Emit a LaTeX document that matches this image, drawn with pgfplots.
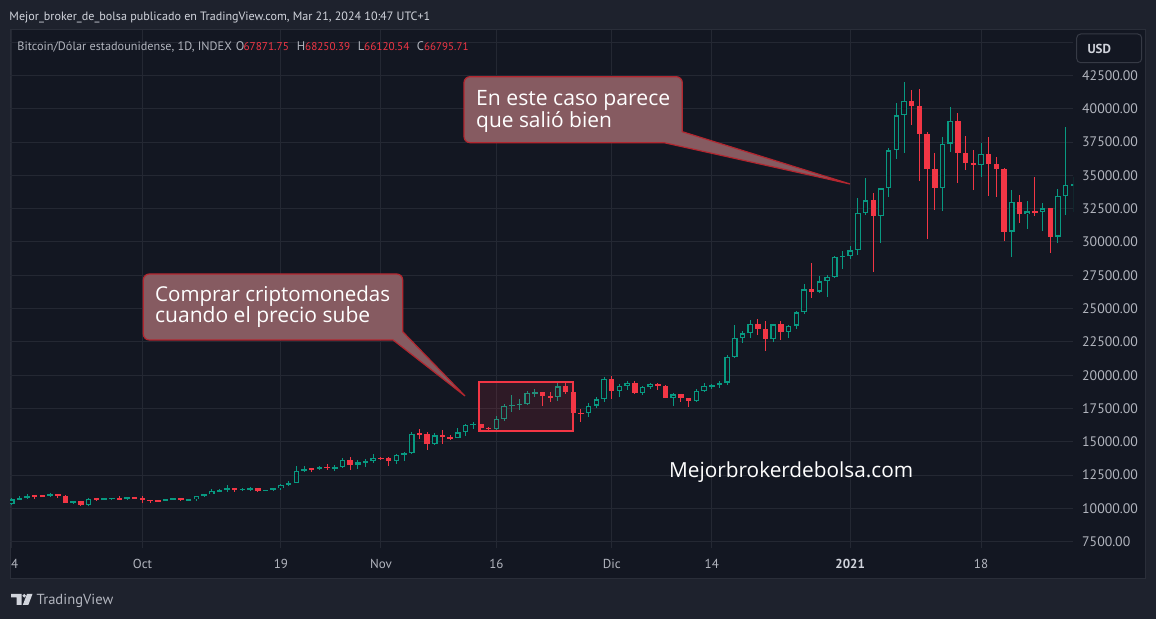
\documentclass[border=0pt]{standalone}
\usepackage{pgfplots}
\pgfplotsset{compat=1.18}
\usepackage{pgfplotstable}
\usepackage{fontspec}
\setmainfont{PT Sans}
\newfontfamily\callfont{Open Sans}
\definecolor{bgout}{HTML}{1E222D}
\definecolor{bgpane}{HTML}{131722}
\definecolor{paneborder}{HTML}{2A2E39}
\definecolor{gridc}{HTML}{242833}
\definecolor{tvgreen}{HTML}{089981}
\definecolor{tvred}{HTML}{F23645}
\definecolor{txtgray}{HTML}{B2B5BE}
\definecolor{txtlight}{HTML}{D1D4DC}
\definecolor{callfill}{HTML}{865B61}
\definecolor{callborder}{HTML}{B3262F}
\definecolor{btnborder}{HTML}{363A45}

% k = days since 14 Sep 2020; o h l c
\pgfplotstableread{
k o h l c
0 10330 10800 10280 10680
1 10680 10940 10630 10790
2 10790 11100 10690 10960
5 10930 11180 10890 11080
8 10420 10570 10360 10530
10 10240 10780 10200 10740
12 10690 10780 10650 10730
13 10730 10790 10620 10770
15 10690 10860 10650 10840
20 10550 10690 10530 10680
21 10680 10800 10610 10790
23 10600 10680 10540 10670
24 10670 10950 10540 10920
25 10920 11100 10820 11060
26 11060 11480 11050 11300
27 11300 11440 11280 11380
28 11380 11720 11200 11540
30 11420 11560 11300 11440
31 11440 11620 11280 11510
33 11330 11410 11290 11370
34 11370 11520 11340 11520
35 11520 11820 11410 11760
36 11760 12040 11690 11920
37 11920 13220 11900 12820
38 12820 13180 12700 12990
40 12940 13170 12910 13120
42 13040 13250 12800 13070
43 13070 13800 13050 13650
45 13280 13650 12980 13460
46 13460 13700 13130 13570
47 13570 14100 13430 13800
50 13550 14060 13300 14030
51 14030 14240 13530 14150
52 14150 15740 14100 15620
55 14800 15650 14750 15480
58 15300 16000 15280 15700
59 15700 16350 15450 16290
60 16290 16480 15980 16320
63 15960 16900 15870 16730
64 16730 17860 16570 17680
65 17680 18480 17220 17790
66 17790 18180 17350 17810
67 17810 18800 17760 18680
68 18680 18950 18400 18710
71 18370 19410 18030 19160
75 17140 17900 16880 17720
76 17720 18350 17570 18180
77 18180 19860 18000 19700
79 18790 19310 18360 19220
80 19220 19580 18900 19450
82 18650 19170 18530 19150
83 19150 19410 18950 19360
86 18320 18680 17650 18560
89 18040 18950 18000 18800
90 18800 19400 18740 19170
91 19170 19350 19000 19270
92 19270 19570 19050 19440
93 19440 21540 19300 21350
94 21350 23750 21300 22800
95 22800 23300 22450 23140
96 23140 24150 22800 23850
99 22720 23840 22500 23820
101 23240 23740 22800 23730
102 23730 24800 23450 24710
103 24710 26850 24600 26440
105 26270 27450 26200 27040
106 27040 27520 25900 27360
107 27360 28980 27330 28880
108 28880 29300 27950 28950
109 28950 29700 28720 29370
110 29370 33300 29050 32190
111 32190 34800 32020 33120
113 31950 34020 29950 34020
114 34020 37030 33400 36880
115 36880 40420 36220 39500
116 39500 42000 36650 40620
121 34020 37850 32350 37380
122 37380 40100 36750 39120
126 35800 37420 34850 36620
130 30780 33900 28900 32980
132 32080 33060 30980 32300
134 32250 32950 30850 32520
136 30400 33950 29950 33440
137 33440 38650 32020 34270
138 34270 34880 32230 34320
}\greentab

\pgfplotstableread{
k o h l c
3 10960 11040 10740 10940
4 10940 11040 10820 10930
6 11080 11080 10770 10920
7 10920 10990 10370 10420
9 10530 10540 10150 10240
11 10740 10760 10560 10690
14 10770 10950 10640 10690
16 10840 10850 10690 10780
17 10780 10920 10440 10620
18 10620 10660 10380 10570
19 10570 10600 10500 10550
22 10790 10800 10540 10600
29 11540 11560 11250 11430
32 11510 11540 11220 11330
39 12990 13030 12720 12940
41 13120 13340 12900 13040
44 13650 13850 12900 13280
48 13800 13890 13630 13760
49 13760 13830 13220 13550
53 15620 15960 15230 15560
54 15560 15770 14400 14800
56 15480 15850 14850 15330
57 15330 15480 15100 15300
61 16320 16330 15850 16070
62 16070 16140 15880 15960
69 18710 18730 17650 18420
70 18420 18770 18000 18370
72 19160 19460 18620 18720
73 18720 18800 17100 17150
74 17150 17460 16480 17140
78 19700 19920 18190 18790
81 19450 19540 18580 18650
84 19360 19420 18900 19170
85 19170 19290 18270 18320
87 18560 18580 17950 18260
88 18260 18280 17590 18040
97 23850 24250 23050 23480
98 23480 24050 21850 22720
100 23820 24100 22650 23240
104 26440 28400 25830 26270
112 33120 33650 27750 31950
117 40620 41400 38820 40220
118 40220 41480 34600 38120
119 38120 38220 30220 35450
120 35450 36680 32400 34020
123 39120 39650 34400 36700
124 36700 37950 35420 35950
125 35950 36870 33900 35800
127 36620 37850 33450 35880
128 35880 36370 33400 35480
129 35480 35580 30080 30780
131 32980 33500 31420 32080
133 32300 34850 31950 32250
135 32520 32580 29200 30400
}\redtab

\pgfplotsset{candle/.style={draw=none, mark=none, forget plot,
  error bars/.cd, y dir=both, y explicit, error mark=none}}

\begin{document}
\begin{tikzpicture}[x=1bp,y=1bp]
\fill[bgout] (0,0) rectangle (1156,619);
\useasboundingbox (0,0) rectangle (1156,619);
\fill[bgpane] (10,40) rectangle (1145,589);
\draw[paneborder, line width=1bp] (10,40) rectangle (1145,589);

\begin{axis}[
  at={(10bp,589bp)}, anchor=north west, scale only axis,
  width=1063bp, height=518bp,
  xmin=-0.221, xmax=137.96, ymin=7027, ymax=45916,
  axis line style={draw=none}, tick style={draw=none},
  grid=major, major grid style={draw=gridc, line width=1bp},
  xtick={17,35,48,63,78,91,109,126},
  xticklabels={Oct,19,Nov,16,Dic,14,{\textcolor{txtlight}{\bfseries 2021}},18},
  extra x ticks={0}, extra x tick labels={4},
  extra x tick style={grid=major, x tick label style={xshift=3bp}},
  ytick={7500,10000,...,42500},
  extra y ticks={45000}, extra y tick labels={},
  scaled y ticks=false,
  yticklabel pos=right,
  tick label style={font=\fontsize{13bp}{15bp}\selectfont, text=txtgray},
  y tick label style={anchor=west, inner sep=0pt, xshift=9bp, font=\fontsize{13.8bp}{15bp}\selectfont,
    /pgf/number format/fixed, /pgf/number format/fixed zerofill,
    /pgf/number format/precision=2, /pgf/number format/1000 sep={}},
  x tick label style={anchor=base, inner sep=0pt},
  xticklabel shift=21bp,
  /pgf/number format/assume math mode=true,
]
% wicks
\addplot[candle, error bar style={draw=tvred, line width=1bp}]
  table[x=k, y expr={(\thisrow{h}+\thisrow{l})/2}, y error expr={(\thisrow{h}-\thisrow{l})/2}] {\redtab};
\addplot[candle, error bar style={draw=tvgreen, line width=1bp}]
  table[x=k, y expr={(\thisrow{h}+\thisrow{l})/2}, y error expr={(\thisrow{h}-\thisrow{l})/2}] {\greentab};
% green hollow bodies
\addplot[candle, error bar style={draw=tvgreen, line width=5.6bp}]
  table[x=k, y expr={(\thisrow{o}+\thisrow{c})/2}, y error expr={max((\thisrow{c}-\thisrow{o})/2,40)}] {\greentab};
\addplot[candle, error bar style={draw=bgpane, line width=3.2bp}]
  table[x=k, y expr={(\thisrow{o}+\thisrow{c})/2}, y error expr={max((\thisrow{c}-\thisrow{o})/2-90,0)}] {\greentab};
% red filled bodies
\addplot[candle, error bar style={draw=tvred, line width=5.4bp}]
  table[x=k, y expr={(\thisrow{o}+\thisrow{c})/2}, y error expr={max((\thisrow{o}-\thisrow{c})/2,40)}] {\redtab};
% highlighted range
\draw[tvred, line width=2bp, fill=tvred, fill opacity=0.12] (axis cs:60.74,19491) rectangle (axis cs:72.96,15813);
\end{axis}

% callout 1
\draw[callborder, fill=callfill, line width=1.2bp]
  (143.3,285) -- (143.3,339) arc[start angle=180,end angle=90,radius=6] -- (396.7,345)
  arc[start angle=90,end angle=0,radius=6] -- (402.7,287.3) -- (465,223) -- (393,279) -- (149.3,279)
  arc[start angle=270,end angle=180,radius=6] -- cycle;
\node[anchor=base west, inner sep=0, text=white, font=\callfont] at (155,317.3) {\resizebox{235bp}{!}{Comprar criptomonedas}};
\node[anchor=base west, inner sep=0, text=white, font=\callfont] at (155,296) {\resizebox{215bp}{!}{cuando el precio sube}};

% callout 2
\draw[callborder, fill=callfill, line width=1.2bp]
  (464,482.3) -- (464,536.3) arc[start angle=180,end angle=90,radius=6] -- (676.3,542.3)
  arc[start angle=90,end angle=0,radius=6] -- (682.3,487.3) -- (850,435) -- (664,476.3) -- (470,476.3)
  arc[start angle=270,end angle=180,radius=6] -- cycle;
\node[anchor=base west, inner sep=0, text=white, font=\callfont] at (476,513.3) {\resizebox{194bp}{!}{En este caso parece}};
\node[anchor=base west, inner sep=0, text=white, font=\callfont] at (476,491.7) {\resizebox{135.7bp}{!}{que salió bien}};

% watermark
\node[anchor=base west, inner sep=0, text=white, font=\callfont] at (669,141.7) {\resizebox{244bp}{!}{Mejorbrokerdebolsa.com}};

% header
\node[anchor=base west, inner sep=0, text=txtlight] at (9.3,598.3)
  {\resizebox{420.7bp}{!}{Mejor\_broker\_de\_bolsa publicado en TradingView.com, Mar 21, 2024 10:47 UTC+1}};
% legend
\begin{scope}[every node/.style={inner sep=0, anchor=base west, text=txtgray, font=\fontsize{12.5bp}{15bp}\selectfont}]
\node at (17.3,568.3) {\resizebox{214.3bp}{!}{Bitcoin/Dólar estadounidense, 1D, INDEX}};
\node at (235.7,568.3) {O};
\node[text=tvred] at (243.3,568.3) {\resizebox{45.4bp}{!}{67871.75}};
\node at (296.7,568.3) {H};
\node[text=tvred] at (305,568.3) {\resizebox{45bp}{!}{68250.39}};
\node at (357.7,568.3) {L};
\node[text=tvred] at (364,568.3) {\resizebox{45.3bp}{!}{66120.54}};
\node at (416.7,568.3) {C};
\node[text=tvred] at (424,568.3) {\resizebox{44.3bp}{!}{66795.71}};
\end{scope}

% USD button
\draw[btnborder, fill=bgpane, line width=1bp, rounded corners=4bp] (1076.7,556.3) rectangle (1141.7,585);
\node[anchor=base west, inner sep=0, text=txtlight, font=\fontsize{13bp}{15bp}\selectfont\bfseries] at (1087.3,565.7) {USD};

% TradingView logo
\fill[txtlight] (11,25) -- (21.7,25) -- (21.7,14) -- (16.7,14) -- (16.7,21.7) -- (11,21.7) -- cycle;
\fill[txtlight] (24.2,23.2) circle (1.9);
\fill[txtlight] (27,25) -- (32.5,25) -- (28.3,14) -- (22.8,14) -- cycle;
\node[anchor=base west, inner sep=0, text=txtgray] at (36.5,14) {\resizebox{76.6bp}{!}{TradingView}};
\end{tikzpicture}
\end{document}
